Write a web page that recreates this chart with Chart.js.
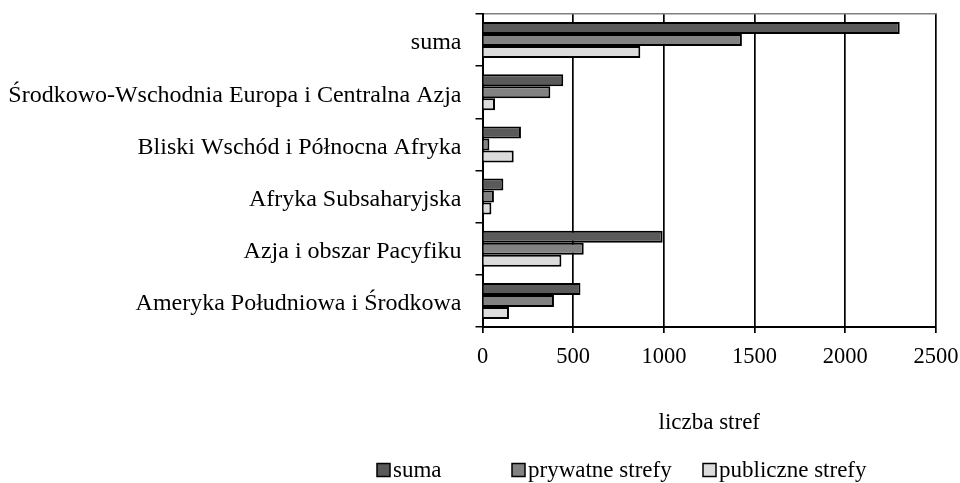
<!DOCTYPE html>
<html>
<head>
<meta charset="utf-8">
<script src="https://cdn.jsdelivr.net/npm/chart.js@4/dist/chart.umd.min.js"></script>
<style>
  html, body { margin: 0; padding: 0; background: #fff; }
  #wrap { width: 960px; height: 483px; position: relative; }
</style>
</head>
<body>
<div id="wrap"><canvas id="strefy_chart"></canvas></div>
<script>
"use strict";

const regions = [
  "suma",
  "Środkowo-Wschodnia Europa i Centralna Azja",
  "Bliski Wschód i Północna Afryka",
  "Afryka Subsaharyjska",
  "Azja i obszar Pacyfiku",
  "Ameryka Południowa i Środkowa"
];
const sumaValues = [2300, 445, 212, 115, 993, 540];
const prywatneValues = [1430, 374, 38, 63, 558, 394];
const publiczneValues = [870, 69, 172, 49, 435, 146];
const seriesNames = ["suma", "prywatne strefy", "publiczne strefy"];
const xTicks = [0, 500, 1000, 1500, 2000, 2500];

const serif = "'Liberation Serif', 'Times New Roman', serif";

// legend drawn by hand, items are not evenly spaced in the original
const legendAt = [377, 512, 703];
const manualLegend = {
  id: "manualLegend",
  afterDraw(chart) {
    const ctx = chart.ctx;
    ctx.save();
    ctx.font = "23px " + serif;
    ctx.textBaseline = "middle";
    chart.data.datasets.forEach((ds, i) => {
      const x = legendAt[i];
      const y = 470;
      ctx.fillStyle = ds.backgroundColor;
      ctx.fillRect(x, y - 6.5, 13, 13);
      ctx.lineWidth = 1.5;
      ctx.strokeStyle = "#000";
      ctx.strokeRect(x, y - 6.5, 13, 13);
      ctx.fillStyle = "#000";
      ctx.fillText(ds.label, x + 16, y + 1);
    });
    ctx.restore();
  }
};

// keep label overhang from moving the plot area
function noPad(scale) {
  scale.paddingLeft = 0;
  scale.paddingRight = 0;
  scale.paddingTop = 0;
  scale.paddingBottom = 0;
}

var ctx1 = document.getElementById("strefy_chart").getContext("2d");
var strefyChart = new Chart(ctx1, {
  type: "bar",
  data: {
    labels: regions,
    datasets: [
      {
        label: seriesNames[0],
        data: sumaValues,
        backgroundColor: "#5a5a5a",
        borderColor: "#000",
        borderWidth: 2
      },
      {
        label: seriesNames[1],
        data: prywatneValues,
        backgroundColor: "#828282",
        borderColor: "#000",
        borderWidth: 2
      },
      {
        label: seriesNames[2],
        data: publiczneValues,
        backgroundColor: "#dcdcdc",
        borderColor: "#000",
        borderWidth: 2
      }
    ]
  },
  options: {
    indexAxis: "y",
    responsive: true,
    maintainAspectRatio: false,
    animation: false,
    datasets: {
      bar: { categoryPercentage: 0.69, barPercentage: 1.0 }
    },
    layout: { padding: { top: 14, right: 24, left: 0, bottom: 0 } },
    plugins: {
      legend: { display: false },
      tooltip: { enabled: false }
    },
    scales: {
      x: {
        type: "linear",
        position: "bottom",
        min: 0,
        max: 2500,
        afterBuildTicks: scale => {
          scale.ticks = xTicks.map(v => ({ value: v }));
        },
        afterFit: scale => {
          scale.height = 156;
          noPad(scale);
        },
        grid: { color: "#000", lineWidth: 1.7, tickLength: 6 },
        border: { color: "#000", width: 2 },
        ticks: {
          color: "#000",
          padding: 11,
          maxRotation: 0,
          font: { family: serif, size: 22.5 },
          callback: v => String(v)
        },
        title: {
          display: true,
          text: "liczba stref",
          color: "#000",
          font: { family: serif, size: 23 },
          padding: { top: 0, bottom: 46 }
        }
      },
      xTop: {
        type: "linear",
        position: "top",
        min: 0,
        max: 2500,
        afterFit: scale => {
          scale.height = 0;
          noPad(scale);
        },
        grid: { drawOnChartArea: false, drawTicks: false },
        border: { color: "#808080", width: 1.5 },
        ticks: { display: false }
      },
      y: {
        type: "category",
        offset: true,
        afterFit: scale => {
          scale.width = 482.5;
          noPad(scale);
        },
        grid: {
          offset: true,
          drawOnChartArea: false,
          color: "#000",
          lineWidth: 1.5,
          tickLength: 7
        },
        border: { color: "#000", width: 2 },
        ticks: {
          color: "#000",
          padding: 14,
          labelOffset: 3,
          font: { family: serif, size: 24 }
        }
      }
    }
  },
  plugins: [manualLegend]
});
</script>
</body>
</html>
